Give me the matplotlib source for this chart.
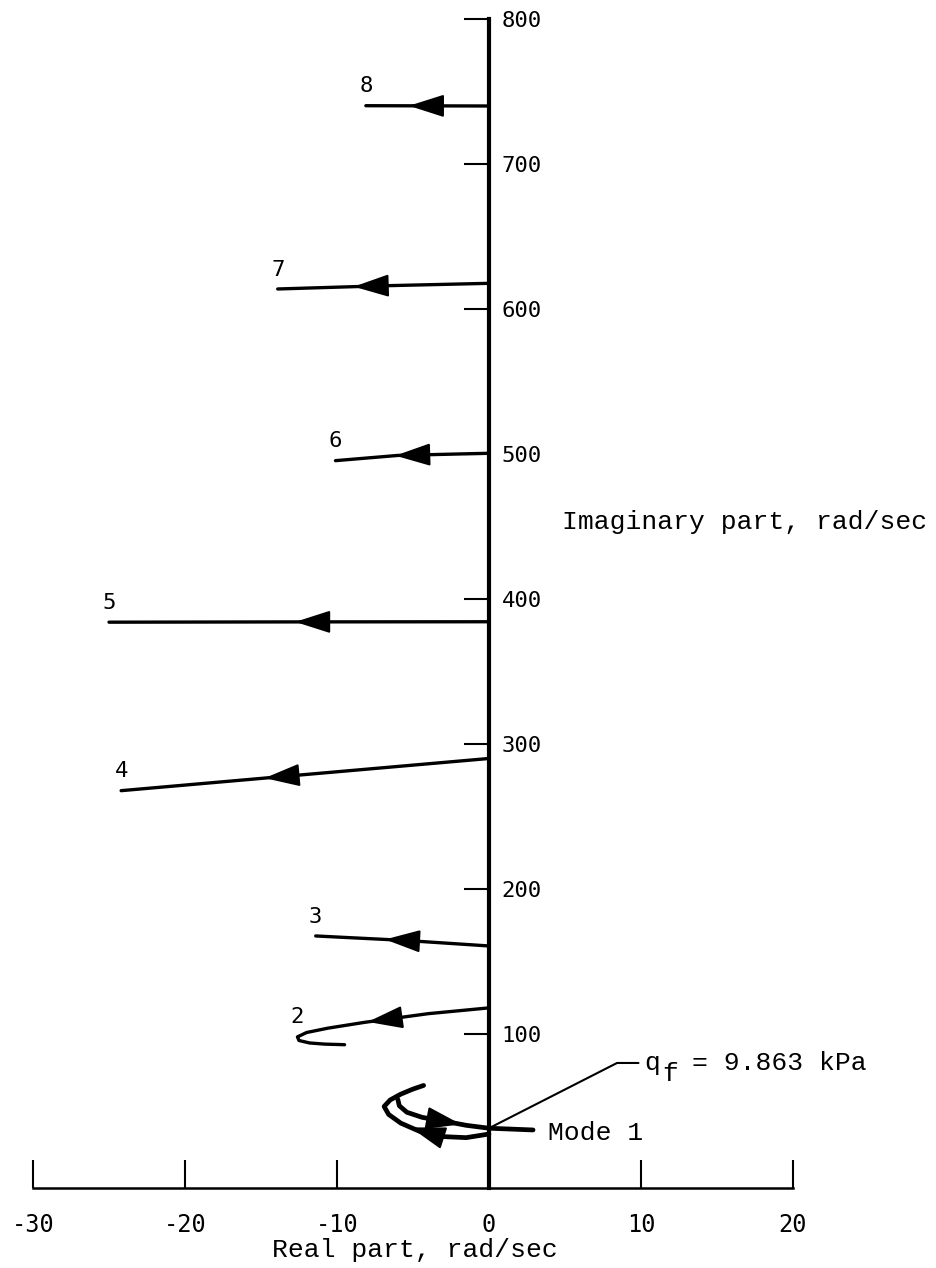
import numpy as np
import matplotlib
matplotlib.use("Agg")
import matplotlib.pyplot as plt

plt.rcParams["font.family"] = ["Liberation Mono", "DejaVu Sans Mono"]
plt.rcParams["axes.unicode_minus"] = False

# root loci, real / imaginary parts in rad/sec, traced with increasing q
mode_names = ["2", "3", "4", "5", "6", "7", "8"]
mode_re = [
    [0.0, -4.0, -8.2, -10.6, -12.0, -12.6, -12.5, -11.8, -10.8, -9.5],
    [0.0, -5.5, -11.4],
    [0.0, -12.0, -24.2],
    [0.0, -12.5, -25.0],
    [0.0, -6.0, -10.1],
    [0.0, -7.0, -13.9],
    [0.0, -4.0, -8.1],
]
mode_im = [
    [118.0, 114.0, 108.0, 104.0, 101.0, 98.0, 95.5, 93.8, 93.0, 92.6],
    [160.7, 164.5, 167.6],
    [290.0, 279.0, 267.8],
    [384.3, 384.2, 384.0],
    [500.5, 499.0, 495.4],
    [617.7, 616.0, 613.8],
    [740.0, 740.1, 740.2],
]
mode_arrow_at = [0.5, 0.6, 0.61, 0.51, 0.61, 0.64, 0.65]

# mode 1: branch leaving the axis and the branch that crosses it at flutter
m1a_re = [0.0, -1.5, -3.2, -4.6, -5.8, -6.6, -6.9, -6.5, -5.8, -5.0, -4.3]
m1a_im = [31.0, 28.5, 29.3, 33.0, 38.5, 44.5, 50.0, 54.5, 58.5, 62.0, 64.5]
m1b_re = [-6.0, -5.9, -5.4, -4.4, -3.0, -1.5, 0.0, 2.9]
m1b_im = [55.0, 50.5, 46.0, 42.5, 40.0, 37.0, 35.0, 33.8]
flutter_im = 35.0
flutter_sym = ("q", "f")
flutter_val = "= 9.863 kPa"

x_ticks = [-30, -20, -10, 0, 10, 20]
y_ticks = [100, 200, 300, 400, 500, 600, 700, 800]
x_axis_at = -6.2
txt_size = 19


def add_arrow(ax, re, im, frac, back=24):
    """Filled arrow head at a fraction of the path length, pointing along it."""
    pts = ax.transData.transform(np.column_stack([re, im]))
    seg = np.hypot(*np.diff(pts, axis=0).T)
    s = np.concatenate([[0.0], np.cumsum(seg)])
    t = frac * s[-1]
    tip = np.array([np.interp(t, s, pts[:, 0]), np.interp(t, s, pts[:, 1])])
    tb = max(t - back, 0.0)
    tail = np.array([np.interp(tb, s, pts[:, 0]), np.interp(tb, s, pts[:, 1])])
    inv = ax.transData.inverted()
    ax.annotate("", xy=inv.transform(tip), xytext=inv.transform(tail),
                arrowprops=dict(arrowstyle="-|>,head_length=1.0,head_width=0.32",
                                mutation_scale=22, color="black", lw=1.5,
                                shrinkA=0, shrinkB=0))


fig = plt.figure(figsize=(9.36, 12.68), dpi=100)
ax = fig.add_axes([0, 0, 1, 1])
ax.set_xlim(-32.17, 29.41)
ax.set_ylim(-61.4, 813.1)

ax.spines["top"].set_visible(False)
ax.spines["left"].set_visible(False)
ax.spines["right"].set_position(("data", 0))
ax.spines["right"].set_linewidth(3)
ax.spines["right"].set_bounds(x_axis_at, 800)
ax.spines["bottom"].set_position(("data", x_axis_at))
ax.spines["bottom"].set_linewidth(1.8)
ax.spines["bottom"].set_bounds(-30, 20)

ax.set_xticks(x_ticks)
ax.set_yticks(y_ticks)
ax.tick_params(axis="x", direction="in", length=20, width=1.5, pad=18,
               labelsize=17)
ax.tick_params(axis="y", left=False, labelleft=False, right=True,
               labelright=True, direction="in", length=18, width=1.5,
               pad=9, labelsize=16)
for lab in ax.get_xticklabels() + ax.get_yticklabels():
    lab.set_family("DejaVu Sans Mono")

for name, re, im, frac in zip(mode_names, mode_re, mode_im, mode_arrow_at):
    ax.plot(re, im, color="black", lw=2.4, solid_capstyle="round")
    add_arrow(ax, re, im, frac)
    k = int(np.argmin(re))
    ax.annotate(name, xy=(re[k], im[k]), xytext=(0, 14), textcoords="offset points",
                ha="center", va="center", fontsize=16, family="DejaVu Sans Mono")

ax.plot(m1a_re, m1a_im, color="black", lw=3.4, solid_capstyle="round")
ax.plot(m1b_re, m1b_im, color="black", lw=3.4, solid_capstyle="round")
add_arrow(ax, m1a_re, m1a_im, 0.5)
add_arrow(ax, m1b_re, m1b_im, 0.5)
ax.text(3.9, 32, "Mode 1", ha="left", va="center", fontsize=txt_size)

# flutter point label with a leader line; subscript set full size, lowered
char_w = 0.6 * txt_size
label_at = (10.2, 80)
ax.annotate(flutter_sym[0], xy=(0, flutter_im), xytext=label_at,
            ha="left", va="center", fontsize=txt_size,
            arrowprops=dict(arrowstyle="-", color="black", lw=1.5,
                            connectionstyle="angle,angleA=0,angleB=27",
                            shrinkA=2, shrinkB=0))
ax.annotate(flutter_sym[1], xy=label_at, xytext=(char_w + 1.5, -8),
            textcoords="offset points", ha="left", va="center", fontsize=txt_size)
ax.annotate(flutter_val, xy=label_at, xytext=(3 * char_w, 0),
            textcoords="offset points", ha="left", va="center", fontsize=txt_size)

ax.text(4.8, 453, "Imaginary part, rad/sec", ha="left", va="center", fontsize=txt_size)
ax.text(-4.9, -49, "Real part, rad/sec", ha="center", va="center", fontsize=txt_size)

fig.savefig("out.png", dpi=100)
